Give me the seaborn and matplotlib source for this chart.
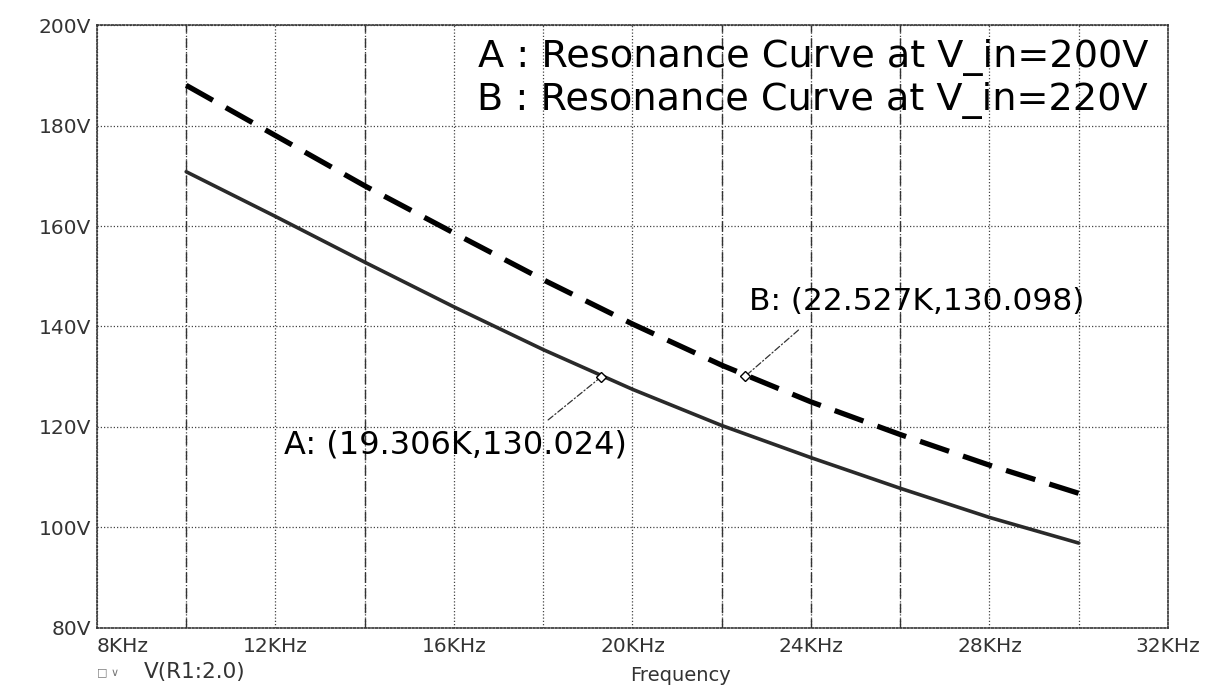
import numpy as np
import pandas as pd
import matplotlib
matplotlib.use("Agg")
import matplotlib.pyplot as plt
import seaborn as sns

# ---- data ----
freq_khz = [10, 12, 14, 16, 18, 20, 22, 24, 26, 28, 30]
v_a = [170.8, 161.9, 152.8, 143.9, 135.4, 127.5, 120.3, 113.9, 107.8, 102.0, 96.9]
v_b = [188.0, 178.0, 168.0, 158.6, 149.3, 140.5, 132.3, 125.0, 118.5, 112.4, 106.8]
series_names = ["A", "B"]
x_ticks = [8, 12, 16, 20, 24, 28, 32]
x_tick_labels = ["8KHz", "12KHz", "16KHz", "20KHz", "24KHz", "28KHz", "32KHz"]
y_ticks = [80, 100, 120, 140, 160, 180, 200]
y_tick_labels = ["80V", "100V", "120V", "140V", "160V", "180V", "200V"]
x_minor = [10, 14, 18, 22, 26, 30]
dashed_vlines = [10, 14, 22, 24, 26]
legend_lines = ["A : Resonance Curve at V_in=200V", "B : Resonance Curve at V_in=220V"]
cursor_a = (19.306, 130.024)
cursor_b = (22.527, 130.098)
label_a = "A: (19.306K,130.024)"
label_b = "B: (22.527K,130.098)"
trace_name = "V(R1:2.0)"

df = pd.DataFrame({
    "freq": freq_khz * 2,
    "volt": v_a + v_b,
    "curve": [series_names[0]] * len(freq_khz) + [series_names[1]] * len(freq_khz),
})

sns.set_theme(style="white")
plt.rcParams["font.family"] = ["DejaVu Sans"]

fig = plt.figure(figsize=(12.15, 6.87), dpi=100)
ax = fig.add_axes([0.0798, 0.0859, 0.9613 - 0.0798, 0.9636 - 0.0859])

sns.lineplot(data=df[df.curve == "A"], x="freq", y="volt", ax=ax,
             color="#2a2a2a", linewidth=2.6, legend=False, zorder=4)
sns.lineplot(data=df[df.curve == "B"], x="freq", y="volt", ax=ax,
             color="black", linewidth=3.8, legend=False, zorder=4,
             dashes=False)
ax.lines[-1].set_dashes((5.8, 2.8))
ax.lines[-1].set_dash_capstyle("butt")

ax.set_xlim(8, 32)
ax.set_ylim(80, 200)
ax.set_xticks(x_ticks)
ax.set_xticklabels(x_tick_labels)
ax.set_xticks(x_minor, minor=True)
ax.set_yticks(y_ticks)
ax.set_yticklabels(y_tick_labels)
ax.tick_params(axis="both", which="both", direction="inout", length=7,
               width=0.8, color="#222222", labelsize=14.5, labelcolor="#333333")
ax.tick_params(axis="x", which="major", pad=3)
ax.tick_params(axis="y", which="major", pad=1)
ax.get_xticklabels()[0].set_horizontalalignment("left")

ax.grid(True, which="both", color="#444444", linestyle=(0, (1, 1.6)), linewidth=0.9)
for xv in dashed_vlines:
    ax.axvline(xv, color="#333333", linestyle=(0, (7, 4)), linewidth=1.0, zorder=1)
for sp in ax.spines.values():
    sp.set_linestyle((0, (1, 1.2)))
    sp.set_linewidth(1.2)
    sp.set_color("#333333")

ax.set_xlabel("Frequency", fontsize=14, color="#333333")
ax.xaxis.set_label_coords(0.545, -0.063)
ax.set_ylabel("")

# legend-like text
ax.text(31.55, 193.6, legend_lines[0], ha="right", va="center", fontsize=27.5,
        color="black", zorder=5)
ax.text(31.55, 185.0, legend_lines[1], ha="right", va="center", fontsize=27.5,
        color="black", zorder=5)

# cursor annotations
leader_kw = dict(arrowstyle="-", color="#333333", linewidth=0.9,
                 linestyle=(0, (5, 2, 1, 2)), shrinkA=0, shrinkB=0)
ax.annotate("", xy=cursor_a, xytext=(18.11, 121.4), arrowprops=leader_kw, zorder=5)
ax.annotate("", xy=cursor_b, xytext=(23.72, 139.3), arrowprops=leader_kw, zorder=5)
ax.text(16.03, 116.4, label_a, ha="center", va="center", fontsize=23,
        color="black", zorder=5)
ax.text(26.36, 144.9, label_b, ha="center", va="center", fontsize=22.5,
        color="black", zorder=5)
ax.plot([cursor_a[0], cursor_b[0]], [cursor_a[1], cursor_b[1]], linestyle="none",
        marker="D", markersize=5, markerfacecolor="white", markeredgecolor="black", zorder=6)

fig.text(0.080, 0.022, "\u25a1 \u2228", fontsize=8, color="#777777", va="center")
fig.text(0.118, 0.022, trace_name, fontsize=15.5, color="#333333", va="center")

fig.savefig("out.png", dpi=100, facecolor="white")
